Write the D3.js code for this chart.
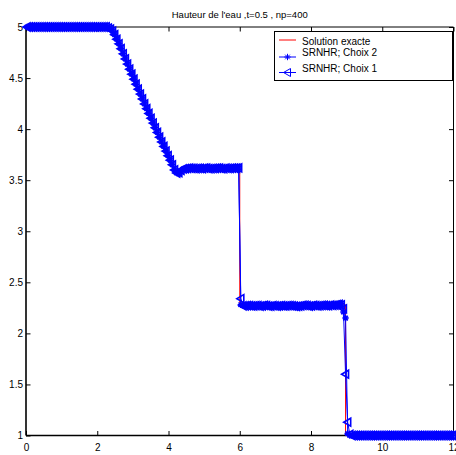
<!DOCTYPE html>
<html>
<head>
<meta charset="utf-8">
<script src="https://cdn.jsdelivr.net/npm/d3@7"></script>
<style>
  html, body { margin: 0; padding: 0; background: #fff; }
  svg { display: block; }
  text { font-family: "Liberation Sans", Arial, sans-serif; fill: #000; }
</style>
</head>
<body>
<svg id="chart" width="456" height="455"></svg>
<script>
// ---------------- data ----------------
const titleText = "Hauteur de l'eau ,t=0.5 , np=400";
const xTicks = [0, 2, 4, 6, 8, 10, 12];
const yTicks = [1, 1.5, 2, 2.5, 3, 3.5, 4, 4.5, 5];
const legendLabels = ["Solution exacte", "SRNHR; Choix 2", "SRNHR; Choix 1"];

// exact solution (polyline knots)
const xExact = [0, 2.42, 2.6, 2.8, 3.0, 3.2, 3.4, 3.6, 3.8, 4.0, 4.18, 6.0, 6.0, 8.97, 8.97, 12];
const hExact = [5, 5, 4.846, 4.678, 4.513, 4.351, 4.192, 4.036, 3.883, 3.733, 3.600, 3.61, 2.28, 2.28, 1.0, 1.0];

// numerical grid nodes (cell centres, every other of the np=400 cells)
const nNodes = 200;
const xNodes = d3.range(nNodes).map(i => 0.03 + 0.06 * i);

// SRNHR; Choix 2
const hChoix2 = [
  5,5,5,5,5,5,5,5,5,5,
  5,5,5,5,5,5,5,5,5,5,
  5,5,5,5,5,5,5,5,5,5,
  5,5,5,5,5,5,5,5,
  4.99,4.98,4.96,4.925,4.88,4.835,
  4.787,4.737,4.687,4.637,4.587,4.538,4.489,4.440,4.391,4.343,
  4.295,4.247,4.200,4.153,4.106,4.059,4.013,3.967,3.921,3.875,
  3.830,3.785,3.740,3.696,3.651,
  3.60,3.57,3.575,3.595,3.61,
  3.612,3.615,3.618,3.614,3.616,3.613,3.617,3.615,3.614,3.618,
  3.616,3.613,3.615,3.617,3.614,3.616,3.618,3.615,3.613,3.616,
  3.617,3.614,3.616,3.618,3.619,3.62,
  2.28,
  2.272,2.268,2.270,2.274,2.271,2.267,2.269,2.273,2.270,2.268,
  2.271,2.274,2.270,2.266,2.269,2.272,2.270,2.268,2.273,2.271,
  2.267,2.270,2.274,2.272,2.268,2.265,2.264,2.268,2.273,2.276,
  2.274,2.270,2.268,2.271,2.274,2.272,2.269,2.271,2.275,2.273,
  2.270,2.274,2.277,2.275,2.279,2.282,
  2.29,2.21,2.15,1.02,1.0,
  1,1,1,1,1,1,1,1,1,1,
  1,1,1,1,1,1,1,1,1,1,
  1,1,1,1,1,1,1,1,1,1,
  1,1,1,1,1,1,1,1,1,1,
  1,1,1,1,1,1,1,1
];

// SRNHR; Choix 1
const hChoix1 = [
  5,5,5,5,5,5,5,5,5,5,
  5,5,5,5,5,5,5,5,5,5,
  5,5,5,5,5,5,5,5,5,5,
  5,5,5,5,5,5,5,5,
  4.99,4.98,4.96,4.925,4.88,4.835,
  4.787,4.737,4.687,4.637,4.587,4.538,4.489,4.440,4.391,4.343,
  4.295,4.247,4.200,4.153,4.106,4.059,4.013,3.967,3.921,3.875,
  3.830,3.785,3.740,3.696,3.651,
  3.60,3.57,3.575,3.595,3.61,
  3.613,3.616,3.617,3.615,3.615,3.614,3.616,3.616,3.613,3.617,
  3.617,3.614,3.614,3.616,3.615,3.617,3.617,3.614,3.614,3.617,
  3.616,3.615,3.617,3.617,3.618,3.62,
  2.34,
  2.270,2.270,2.272,2.272,2.269,2.269,2.271,2.271,2.268,2.270,
  2.273,2.272,2.268,2.268,2.271,2.270,2.268,2.270,2.271,2.269,
  2.269,2.272,2.272,2.270,2.266,2.264,2.266,2.270,2.275,2.274,
  2.272,2.268,2.270,2.273,2.272,2.270,2.271,2.273,2.273,2.271,
  2.272,2.276,2.275,2.277,2.281,2.284,
  2.28,2.24,1.60,1.13,1.01,
  1,1,1,1,1,1,1,1,1,1,
  1,1,1,1,1,1,1,1,1,1,
  1,1,1,1,1,1,1,1,1,1,
  1,1,1,1,1,1,1,1,1,1,
  1,1,1,1,1,1,1,1
];

// ---------------- drawing ----------------
const svg = d3.select("#chart");
const pLeft = 26, pRight = 453.5, pTop = 27, pBottom = 435.5;
const x = d3.scaleLinear().domain([0, 12]).range([pLeft, pRight]);
const y = d3.scaleLinear().domain([1, 5]).range([pBottom, pTop]);
const blue = "#0000ff", red = "#ff0000";

// title
svg.append("text")
  .attr("x", (pLeft + pRight) / 2).attr("y", 18)
  .attr("text-anchor", "middle").attr("font-size", "9.5px")
  .text(titleText);

// axes (box with inward ticks)
const tickLen = 4.5;
const axB = d3.axisBottom(x).tickValues(xTicks).tickSize(-tickLen).tickPadding(8).tickFormat(d3.format("d"));
const axT = d3.axisTop(x).tickValues(xTicks).tickSize(-tickLen).tickFormat("");
const axL = d3.axisLeft(y).tickValues(yTicks).tickSize(-tickLen).tickPadding(3).tickFormat(d => String(d));
const axR = d3.axisRight(y).tickValues(yTicks).tickSize(-tickLen).tickFormat("");

function styleAxis(g, w) {
  g.select(".domain").attr("stroke", "#000").attr("stroke-width", w);
  g.selectAll(".tick line").attr("stroke", "#000").attr("stroke-width", 1);
  g.selectAll("text").attr("font-size", "10px").attr("font-family", '"Liberation Sans", Arial, sans-serif').attr("fill", "#000");
}
const gB = svg.append("g").attr("transform", `translate(0,${pBottom})`).call(axB);
gB.select(".domain").attr("d", `M${pLeft},0H${pRight}`);
styleAxis(gB, 1.6);
const gT = svg.append("g").attr("transform", `translate(0,${pTop})`).call(axT);
gT.select(".domain").attr("d", `M${pLeft},0H${pRight}`);
styleAxis(gT, 1);
const gL = svg.append("g").attr("transform", `translate(${pLeft},0)`).call(axL);
gL.select(".domain").attr("d", `M0,${pTop}V${pBottom}`);
styleAxis(gL, 1.6);
const gR = svg.append("g").attr("transform", `translate(${pRight},0)`).call(axR);
gR.select(".domain").attr("d", `M0,${pTop}V${pBottom}`);
styleAxis(gR, 1);

// marker paths
const starPath = "M-3.2,0H3.2M0,-3.2V3.2M-2.3,-2.3L2.3,2.3M-2.3,2.3L2.3,-2.3";
const triPath = "M-4,0L3,-4L3,4Z";

const line = d3.line().x(d => x(d[0])).y(d => y(d[1]));

// exact solution
const exactPts = xExact.map((v, i) => [v, hExact[i]]);
svg.append("path").attr("d", line(exactPts))
  .attr("fill", "none").attr("stroke", red).attr("stroke-width", 1);

function drawSeries(vals, mpath, sw) {
  const pts = xNodes.map((v, i) => [v, vals[i]]);
  const g = svg.append("g");
  g.append("path").attr("d", line(pts)).attr("fill", "none").attr("stroke", blue).attr("stroke-width", 1);
  g.selectAll("path.m").data(pts).join("path").attr("class", "m")
    .attr("transform", d => `translate(${x(d[0])},${y(d[1])})`)
    .attr("d", mpath).attr("fill", "none").attr("stroke", blue).attr("stroke-width", sw);
}
drawSeries(hChoix2, starPath, 1.5);
drawSeries(hChoix1, triPath, 1.6);

// legend
const lg = svg.append("g");
lg.append("rect").attr("x", 274.5).attr("y", 31.5).attr("width", 178).attr("height", 49)
  .attr("fill", "#fff").attr("stroke", "#000").attr("stroke-width", 1);
const lineYs = [40, 57, 72.5];
const textYs = [41, 52.5, 68.5];
const colors = [red, blue, blue];
const markers = [null, starPath, triPath];
legendLabels.forEach((lab, i) => {
  lg.append("line").attr("x1", 279).attr("x2", 296).attr("y1", lineYs[i]).attr("y2", lineYs[i])
    .attr("stroke", colors[i]).attr("stroke-width", 1);
  if (markers[i]) {
    lg.append("path").attr("d", markers[i]).attr("transform", `translate(287.5,${lineYs[i]})`)
      .attr("fill", "none").attr("stroke", blue).attr("stroke-width", 1);
  }
  lg.append("text").attr("x", 302).attr("y", textYs[i]).attr("dy", "0.35em")
    .attr("font-size", "10px").text(lab);
});
</script>
</body>
</html>
